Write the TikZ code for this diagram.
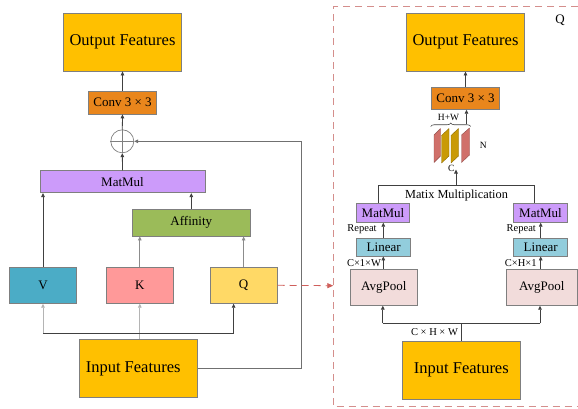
\documentclass[tikz,border=0pt]{standalone}
\usepackage{fontspec}
\setmainfont{Liberation Serif}
\usetikzlibrary{arrows.meta,decorations.pathreplacing}

\definecolor{featyellow}{HTML}{FFC000}
\definecolor{convorange}{HTML}{E9861C}
\definecolor{matlilac}{HTML}{CC9BFA}
\definecolor{affgreen}{HTML}{9BBB59}
\definecolor{vblue}{HTML}{4BACC6}
\definecolor{kpink}{HTML}{FF9999}
\definecolor{qyellow}{HTML}{FFD966}
\definecolor{linblue}{HTML}{92CDDC}
\definecolor{poolpink}{HTML}{F2DCDB}
\definecolor{edgegray}{HTML}{7F7F7F}
\definecolor{wire}{HTML}{404040}
\definecolor{wirelight}{HTML}{B4B4B4}
\definecolor{wiremid}{HTML}{8C8C8C}
\definecolor{dashred}{HTML}{CF5F5B}
\definecolor{framered}{HTML}{D48E8C}
\definecolor{slabred}{HTML}{D0706A}
\definecolor{slabgold}{HTML}{C99A06}

\tikzset{
  blk/.style={draw=edgegray, line width=0.8pt, inner sep=0pt, align=center},
  bigfont/.style={font=\fontsize{16.5}{18}\selectfont},
  midfont/.style={font=\fontsize{13}{15}\selectfont},
  smallfont/.style={font=\fontsize{10.5}{12}\selectfont},
  tinyfont/.style={font=\fontsize{9.5}{10}\selectfont},
  tip/.style={-{Triangle[length=4pt,width=3.6pt]}},
  wireline/.style={draw=wire, line width=0.8pt},
  arr/.style={wireline, tip},
  slab/.style={line width=0.4pt, line join=round},
}

\begin{document}
\begin{tikzpicture}[x=1pt,y=-1pt]
\useasboundingbox (0,0) rectangle (578,408);

% ---------------- left: attention block ----------------
\node[blk, bigfont, fill=featyellow, minimum width=118pt, minimum height=58pt] (outL) at (122.5,42) {Output Features};
\node[blk, midfont, fill=convorange, minimum width=67.6pt, minimum height=23pt] (convL) at (122.5,102.5) {Conv 3 × 3};
\node[circle, draw=edgegray, line width=0.7pt, minimum size=23pt, inner sep=0pt] (plus) at (122.3,141.3) {};
\draw[edgegray, line width=0.6pt] (plus.north) -- (plus.south) (plus.west) -- (plus.east);
\node[blk, midfont, fill=matlilac, minimum width=165pt, minimum height=22pt] (mmC) at (122.5,181.7) {MatMul};
\node[blk, midfont, fill=affgreen, minimum width=118pt, minimum height=26.7pt] (aff) at (191.3,222.7) {Affinity};
\node[blk, midfont, fill=vblue, minimum width=67.4pt, minimum height=36pt] (V) at (43,285.3) {V};
\node[blk, midfont, fill=kpink, minimum width=67pt, minimum height=36pt] (K) at (139.8,285.3) {K};
\node[blk, midfont, fill=qyellow, minimum width=67.3pt, minimum height=36pt] (Q) at (243.6,285.3) {Q};
\node[blk, bigfont, fill=featyellow, minimum width=118pt, minimum height=58.4pt] (inL) at (138.3,368.5) {};
\node[bigfont, anchor=center] (inLtext) at (133.2,368.5) {Input Features};

% input fan-out to V, K, Q
\coordinate (busL) at (0,333.3);
\draw[draw=wirelight, line width=0.8pt] (K.south |- inL.north) -- (K.south |- busL);
\draw[draw=wirelight, line width=0.8pt, tip] (K.south |- busL) -- (K.south);
\draw[wireline] (V.south |- busL) -- ([xshift=-10pt]Q.south |- busL);
\draw[draw=wirelight, line width=0.8pt, tip] (V.south |- busL) -- (V.south);
\draw[arr] ([xshift=-10pt]Q.south |- busL) -- ([xshift=-10pt]Q.south);

% K, Q -> affinity; V, affinity -> MatMul
\draw[draw=wiremid, line width=0.8pt, tip] (K.north) -- (K.north |- aff.south);
\draw[draw=wiremid, line width=0.8pt, tip] (Q.north) -- (Q.north |- aff.south);
\draw[arr] (aff.north) -- (aff.north |- mmC.south);
\draw[arr] (V.north) -- (V.north |- mmC.south);

% MatMul -> sum -> conv -> output
\draw[arr] (mmC.north) -- (plus.south);
\draw[arr] (plus.north) -- (convL.south);
\draw[arr] (convL.north) -- (outL.south);

% residual path from the input
\coordinate (skip) at (301.7,141.3);
\draw[draw=wiremid!80!black, line width=0.8pt, tip] (inL.east) -| (skip) -- (plus.east);

% ---------------- right: detail of Q ----------------
\coordinate (frameTL) at (333.3,6.7);
\coordinate (frameBL) at (333.3,406.7);
\draw[framered, line width=0.9pt, dash pattern=on 7pt off 5pt]
  (578,6.7) -- (frameTL) -- (frameBL) -- (578,406.7);
\node[midfont] (qlabel) at (560,20.7) {Q};

\coordinate (qin) at (333.3,285.7);
\draw[dashred, line width=0.8pt, dash pattern=on 7pt off 5pt,
      -{Triangle[length=6pt,width=5pt]}] (Q.east) -- (qin);

\node[blk, bigfont, fill=featyellow, minimum width=117.6pt, minimum height=57.7pt] (outR) at (465.5,42.2) {Output Features};
\node[blk, midfont, fill=convorange, minimum width=67.6pt, minimum height=22pt] (convR) at (465.5,98.3) {Conv 3 × 3};
\draw[arr] (convR.north) -- (outR.south);

% stacked feature slices
\filldraw[slab, fill=slabred, draw=slabred!70!black]  (434,162.5) -- (434,135) -- (440.5,128.5) -- (440.5,156) -- cycle;
\filldraw[slab, fill=slabgold, draw=slabgold!70!black] (441.5,163) -- (441.5,135.5) -- (449,128.5) -- (449,156) -- cycle;
\filldraw[slab, fill=slabgold, draw=slabgold!70!black] (451,163) -- (451,135.5) -- (458.5,128.5) -- (458.5,156) -- cycle;
\filldraw[slab, fill=slabred, draw=slabred!70!black]  (461.5,162.5) -- (461.5,135) -- (469.5,128) -- (469.5,155) -- cycle;
\draw[wire, line width=0.6pt, decorate, decoration={brace, amplitude=3.5pt}]
  (430.7,126.5) -- (470.7,126.5);
\node[tinyfont] (hw) at (448.5,117.8) {H+W};
\node[tinyfont] (nlabel) at (483.3,145.7) {N};
\node[tinyfont] (clabel) at (451.2,168) {C};
\coordinate (braceout) at (466.5,124);
\draw[arr] (braceout) -- (braceout |- convR.south);

% matrix multiplication bracket
\node[blk, midfont, fill=matlilac, minimum width=52.3pt, minimum height=19pt] (mmL) at (383,212.8) {MatMul};
\node[blk, midfont, fill=matlilac, minimum width=53.6pt, minimum height=19pt] (mmR) at (540.5,212.8) {MatMul};
\coordinate (barL) at (378.3,185);
\coordinate (barR) at (534.3,185);
\draw[wireline] (barL |- mmL.north) -- (barL) -- (barR) -- (barR |- mmR.north);
\node[font=\fontsize{12.3}{14}\selectfont] (mmtext) at (456.5,196) {Matix Multiplication};
\coordinate (slabin) at (456,169.5);
\draw[arr] (slabin |- barL) -- (slabin);

% linear layers and pooling branches
\node[blk, midfont, fill=linblue, minimum width=54pt, minimum height=17.7pt] (linL) at (383.7,247.2) {Linear};
\node[blk, midfont, fill=linblue, minimum width=54pt, minimum height=17.7pt] (linR) at (540.7,247.2) {Linear};
\node[blk, midfont, fill=poolpink, minimum width=67.7pt, minimum height=36pt] (apL) at (383.8,287.3) {AvgPool};
\node[blk, midfont, fill=poolpink, minimum width=70.3pt, minimum height=36pt] (apR) at (541.8,287.3) {AvgPool};
\node[blk, bigfont, fill=featyellow, minimum width=118pt, minimum height=58.3pt] (inR) at (461.3,370.2) {Input Features};

\draw[arr] ([xshift=-0.4pt]linL.north) -- ([xshift=-0.4pt]linL.north |- mmL.south);
\draw[arr] (linR.north) -- (linR.north |- mmR.south);
\draw[arr] ([xshift=-0.4pt]linL.south |- apL.north) -- ([xshift=-0.4pt]linL.south);
\draw[arr] (linR.south |- apR.north) -- (linR.south);

\node[smallfont] (repL) at (362,229.3) {Repeat};
\node[smallfont] (repR) at (521.3,229.3) {Repeat};
\node[smallfont] (dimL) at (364,262.7) {C×1×W};
\node[smallfont] (dimR) at (520.7,262.7) {C×H×1};

\coordinate (busR) at (0,323.3);
\draw[wireline] (inR.north) -- (inR.north |- busR);
\draw[wireline] ([xshift=-1pt]apL.south |- busR) -- ([xshift=-1.8pt]apR.south |- busR);
\draw[arr] ([xshift=-1pt]apL.south |- busR) -- ([xshift=-1pt]apL.south);
\draw[arr] ([xshift=-1.8pt]apR.south |- busR) -- ([xshift=-1.8pt]apR.south);
\node[smallfont] (dimIn) at (434.5,331.7) {C × H × W};

\end{tikzpicture}
\end{document}
